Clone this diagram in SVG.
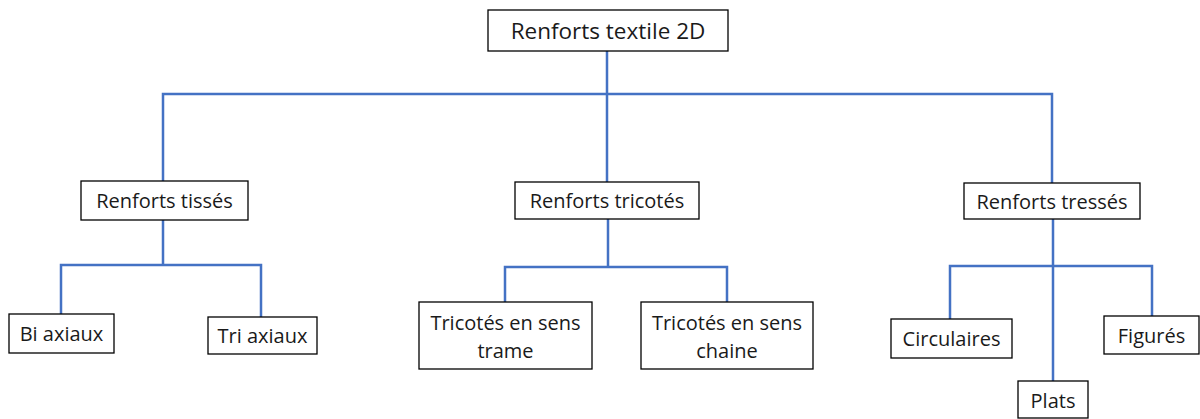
<svg xmlns="http://www.w3.org/2000/svg" width="1200" height="419" viewBox="0 0 1200 419">
<style>
.box{fill:#fff;stroke:#000;stroke-width:1.3}
.lbl{font-family:"Open Sans","Liberation Sans",sans-serif;font-size:20px;fill:#1a1a1a;text-anchor:middle;dominant-baseline:central}
.big{font-size:22.5px}
.c{fill:none;stroke:#4472c4;stroke-width:2.5}
</style>
<rect width="1200" height="419" fill="#fff"/>
<g id="connectors">
<path class="c" d="M607 51V94M163 183V94H1052V183M607 94V182"/>
<path class="c" d="M163 220V265M61 314V265H261V317"/>
<path class="c" d="M608 219V267M505 302V267H727V302"/>
<path class="c" d="M1053 219V381M950 319V266H1152V316"/>
</g>
<g id="n-root"><rect class="box" x="488" y="10" width="240" height="41"/><text class="lbl big" x="608" y="30.5">Renforts textile 2D</text></g>
<g id="n-tisses"><rect class="box" x="81" y="181" width="167" height="39"/><text class="lbl" x="164.5" y="200.5">Renforts tissés</text></g>
<g id="n-tricotes"><rect class="box" x="515" y="182" width="184" height="37"/><text class="lbl" x="607" y="200.5">Renforts tricotés</text></g>
<g id="n-tresses"><rect class="box" x="964" y="183" width="176" height="36"/><text class="lbl" x="1052" y="201">Renforts tressés</text></g>
<g id="n-bi"><rect class="box" x="9" y="314" width="105" height="39"/><text class="lbl" x="61.5" y="333.5">Bi axiaux</text></g>
<g id="n-tri"><rect class="box" x="208" y="317" width="109" height="37"/><text class="lbl" x="262.5" y="335.5">Tri axiaux</text></g>
<g id="n-trame"><rect class="box" x="419" y="302" width="173" height="67"/><text class="lbl" x="505.5" y="322">Tricotés en sens</text><text class="lbl" x="505.5" y="350">trame</text></g>
<g id="n-chaine"><rect class="box" x="641" y="302" width="172" height="67"/><text class="lbl" x="727" y="322">Tricotés en sens</text><text class="lbl" x="727" y="350">chaine</text></g>
<g id="n-circ"><rect class="box" x="891" y="319" width="121" height="39"/><text class="lbl" x="951.5" y="338.5">Circulaires</text></g>
<g id="n-fig"><rect class="box" x="1104" y="316" width="95" height="38"/><text class="lbl" x="1151.5" y="335">Figurés</text></g>
<g id="n-plats"><rect class="box" x="1018" y="381" width="70" height="37"/><text class="lbl" x="1053" y="400">Plats</text></g>
</svg>
